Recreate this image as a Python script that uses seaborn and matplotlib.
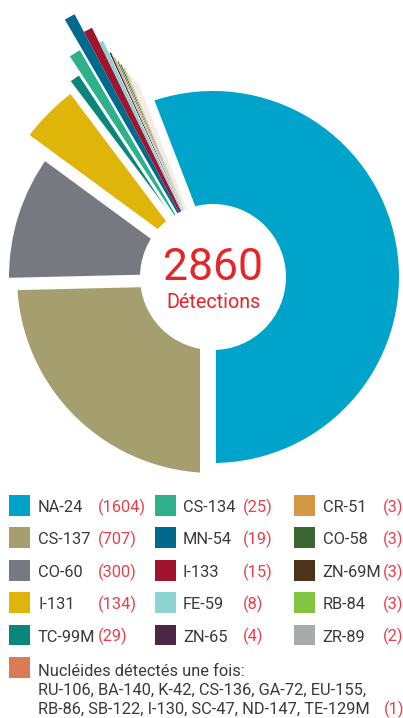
import matplotlib.pyplot as plt
import seaborn as sns
import numpy as np

# --- données ---
nuclides = ['NA-24', 'CS-137', 'CO-60', 'I-131', 'TC-99M',
            'CS-134', 'MN-54', 'I-133', 'FE-59', 'ZN-65',
            'CR-51', 'CO-58', 'ZN-69M', 'RB-84', 'ZR-89']
counts = [1604, 707, 300, 134, 29,
          25, 19, 15, 8, 4,
          3, 3, 3, 3, 2]
colors = ['#00A3C9', '#A59F70', '#767980', '#DFB50A', '#0A877A',
          '#2EB08B', '#006A8E', '#A1142E', '#8CD3D1', '#4B2745',
          '#D49842', '#3A6631', '#4B3419', '#83C342', '#A9AAAA']
singles = ['RU-106', 'BA-140', 'K-42', 'CS-136', 'GA-72', 'EU-155',
           'RB-86', 'SB-122', 'I-130', 'SC-47', 'ND-147', 'TE-129M']
single_count = 1
single_color = '#DA7A57'
total_label = 2860

# --- style ---
W, H = 403, 718
cx, cy = 213, H - 277
hole = 73
radius = {'NA-24': 186, 'CS-137': 196, 'CO-60': 204, 'I-131': 232, 'TC-99M': 242,
          'CS-134': 263, 'MN-54': 297, 'I-133': 277, 'FE-59': 261, 'ZN-65': 247,
          'CR-51': 241, 'CO-58': 236, 'ZN-69M': 232, 'RB-84': 227, 'ZR-89': 222}
single_radius = np.linspace(206, 218, len(singles))
# white gaps (px) at boundaries: (into lower-angle wedge, into higher-angle wedge)
gaps = {('CS-137', 'NA-24'): (13, 3), ('NA-24', singles[0]): (9, 0),
        ('MN-54', 'CS-134'): (1.2, 1.2), ('CS-134', 'TC-99M'): (1.5, 1.5),
        ('TC-99M', 'I-131'): (4, 4), ('I-131', 'CO-60'): (6, 6),
        ('CO-60', 'CS-137'): (4, 8.5)}
name_color = '#3A3A3A'
value_color = '#E8404A'
red = '#E52529'

sns.set_theme(style='white')
plt.rcParams['font.family'] = ['Roboto', 'DejaVu Sans']

# order around the pie (counter-clockwise from the bottom)
col_of = dict(zip(nuclides, colors))
pie_names = [nuclides[0]] + singles + nuclides[:0:-1]
pie_vals = [counts[0]] + [single_count] * len(singles) + counts[:0:-1]
pie_cols = [col_of[nuclides[0]]] + [single_color] * len(singles) + [col_of[n] for n in nuclides[:0:-1]]
pie_rad = [radius[nuclides[0]]] + list(single_radius) + [radius[n] for n in nuclides[:0:-1]]

fig = plt.figure(figsize=(W / 100, H / 100), dpi=100)
ax = fig.add_axes([0, 0, 1, 1])

wedges, _ = ax.pie(pie_vals, colors=pie_cols, startangle=-90, counterclock=True,
                   radius=1, center=(cx, cy), wedgeprops=dict(linewidth=0))
for w, r, v in zip(wedges, pie_rad, pie_vals):
    w.set_radius(r)
    if v < 10:
        # thin white outline so the tiny slices read as separate strips
        w.set_edgecolor('white')
        w.set_linewidth(0.3)

# white separators between slices
angles = -90 + 360 * np.concatenate([[0], np.cumsum(pie_vals)]) / np.sum(pie_vals)
n = len(pie_names)
L = 330
for k in range(n):
    lower = pie_names[k - 1]
    upper = pie_names[k]
    if (lower, upper) not in gaps:
        continue
    lo, hi = gaps[(lower, upper)]
    t = np.deg2rad(angles[k])
    u = np.array([np.cos(t), np.sin(t)])
    nv = np.array([-np.sin(t), np.cos(t)])
    c = np.array([cx, cy])
    pts = np.array([c - lo * nv, c - lo * nv + L * u, c + hi * nv + L * u, c + hi * nv])
    ax.fill(pts[:, 0], pts[:, 1], color='white', lw=0, zorder=3)

ax.add_patch(plt.Circle((cx, cy), hole, color='white', lw=0, zorder=4))
ax.text(cx, H - 280, str(total_label), ha='center', va='baseline', fontsize=32,
        color=red, zorder=5)
ax.text(cx, H - 307.5, 'Détections', ha='center', va='baseline', fontsize=14.2,
        color=red, zorder=5)

# --- légende ---
sq_x = [9, 155, 294]
name_x = [38, 183, 322.5]
val_x = [98, 243, 383]
row0, pitch, sq = 495, 32.4, 20.7
fs = 11.8
for i, (name, c, col) in enumerate(zip(nuclides, counts, colors)):
    j, r = divmod(i, 5)
    top = row0 + pitch * r
    ax.add_patch(plt.Rectangle((sq_x[j], H - top - sq), sq, sq, color=col, lw=0))
    ax.text(name_x[j], H - top - 17, name, fontsize=fs, color=name_color, va='baseline')
    ax.text(val_x[j], H - top - 17, f'({c})', fontsize=fs, color=value_color, va='baseline')

top = row0 + pitch * 5
ax.add_patch(plt.Rectangle((sq_x[0], H - top - sq), sq, sq, color=single_color, lw=0))
ax.text(name_x[0], H - 676, 'Nucléides détectés une fois:', fontsize=fs,
        color=name_color, va='baseline')
ax.text(name_x[0], H - 695, ', '.join(singles[:6]) + ',', fontsize=fs,
        color=name_color, va='baseline')
ax.text(name_x[0], H - 714, ', '.join(singles[6:]), fontsize=fs,
        color=name_color, va='baseline')
ax.text(384, H - 714, f'({single_count})', fontsize=fs, color=value_color, va='baseline')

ax.set_xlim(0, W)
ax.set_ylim(0, H)
ax.set_aspect('auto')
ax.axis('off')

fig.savefig('out.png', dpi=100)
